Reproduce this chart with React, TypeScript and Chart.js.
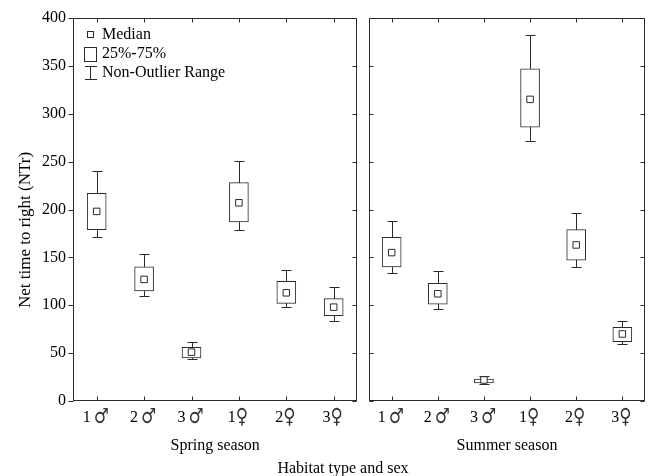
import React, { useEffect, useRef } from "react";
import { Chart, registerables } from "chart.js";

Chart.register(...registerables);

const categories = ["1♂", "2♂", "3♂", "1♀", "2♀", "3♀"];
const yTickValues = [0, 50, 100, 150, 200, 250, 300, 350, 400];

const springMin = [171, 110, 44, 179, 98, 84];
const springQ1 = [179, 115, 45, 187, 102, 89];
const springMedian = [198, 127, 51, 207, 113, 98];
const springQ3 = [217, 140, 56, 228, 125, 107];
const springMax = [240, 154, 62, 251, 137, 119];

const summerMin = [134, 96, 18, 272, 140, 60];
const summerQ1 = [140, 101, 19, 286, 147, 62];
const summerMedian = [155, 112, 22, 315, 163, 70];
const summerQ3 = [171, 123, 23, 347, 179, 77];
const summerMax = [188, 136, 26, 382, 196, 84];

const FONT = "'Liberation Serif', 'DejaVu Serif', serif";
const SYMBOL_FONT = "21px 'DejaVu Sans', sans-serif";
const LINE = "#2a2a2a";

function makeConfig(opts: {
  title: string;
  min: number[];
  q1: number[];
  med: number[];
  q3: number[];
  max: number[];
  showY: boolean;
  legend: boolean;
}) {
  const whiskerPlugin = {
    id: "whiskers",
    beforeDatasetsDraw(chart: any) {
      const { ctx } = chart;
      const xs = chart.scales.x;
      const ys = chart.scales.y;
      ctx.save();
      ctx.strokeStyle = LINE;
      ctx.lineWidth = 1;
      for (let i = 0; i < categories.length; i++) {
        const x = Math.round(xs.getPixelForValue(i)) + 0.5;
        const yTop = Math.round(ys.getPixelForValue(opts.max[i])) + 0.5;
        const yBot = Math.round(ys.getPixelForValue(opts.min[i])) + 0.5;
        ctx.beginPath();
        ctx.moveTo(x, yTop);
        ctx.lineTo(x, yBot);
        ctx.moveTo(x - 5, yTop);
        ctx.lineTo(x + 5, yTop);
        ctx.moveTo(x - 5, yBot);
        ctx.lineTo(x + 5, yBot);
        ctx.stroke();
      }
      ctx.restore();
    },
  };

  const framePlugin = {
    id: "frame",
    afterDraw(chart: any) {
      const { ctx, chartArea } = chart;
      const xs = chart.scales.x;
      const ys = chart.scales.y;
      const l = Math.round(chartArea.left) + 0.5;
      const r = Math.round(chartArea.right) - 0.5;
      const t = Math.round(chartArea.top) + 0.5;
      const b = Math.round(chartArea.bottom) - 0.5;
      ctx.save();
      ctx.strokeStyle = LINE;
      ctx.lineWidth = 1;
      ctx.strokeRect(l, t, r - l, b - t);
      ctx.beginPath();
      for (let i = 0; i < categories.length; i++) {
        const x = Math.round(xs.getPixelForValue(i)) + 0.5;
        ctx.moveTo(x, t);
        ctx.lineTo(x, t + 4);
        ctx.moveTo(x, b);
        ctx.lineTo(x, b - 4);
      }
      for (const v of yTickValues) {
        const y = Math.round(ys.getPixelForValue(v)) + 0.5;
        if (opts.showY) {
          ctx.moveTo(l, y);
          ctx.lineTo(l - 5, y);
        } else {
          ctx.moveTo(l, y);
          ctx.lineTo(l + 4, y);
        }
        ctx.moveTo(r, y);
        ctx.lineTo(r - 4, y);
      }
      ctx.stroke();

      // category labels: number in serif, sex symbol larger and narrower
      const SX = 0.8;
      for (let i = 0; i < categories.length; i++) {
        const label = categories[i];
        const num = label.slice(0, 1);
        const sym = label.slice(1);
        const cx = xs.getPixelForValue(i) - 1;
        ctx.font = "16px " + FONT;
        const wn = ctx.measureText(num).width;
        ctx.font = SYMBOL_FONT;
        const ws = ctx.measureText(sym).width * SX;
        const gap = sym === "♂" ? 3 : 0;
        const total = wn + gap + ws;
        const x0 = cx - total / 2;
        ctx.fillStyle = "#000";
        ctx.textAlign = "left";
        ctx.textBaseline = "alphabetic";
        ctx.font = "16px " + FONT;
        ctx.fillText(num, x0, 422);
        ctx.save();
        ctx.fillStyle = "#333";
        ctx.font = SYMBOL_FONT;
        ctx.textBaseline = "middle";
        ctx.translate(x0 + wn + gap, 417.5);
        ctx.scale(SX, 1);
        ctx.fillText(sym, 0, 0);
        ctx.restore();
      }

      if (opts.showY) {
        ctx.fillStyle = "#000";
        ctx.font = "17px " + FONT;
        ctx.textAlign = "center";
        ctx.textBaseline = "middle";
        ctx.translate(26, 230);
        ctx.rotate(-Math.PI / 2);
        ctx.fillText("Net time to right (NTr)", 0, 0);
        ctx.setTransform(1, 0, 0, 1, 0, 0);
      }

      if (opts.legend) {
        ctx.fillStyle = "#000";
        ctx.font = "16px " + FONT;
        ctx.textAlign = "left";
        ctx.textBaseline = "middle";
        ctx.strokeRect(87.5, 31.5, 6, 6);
        ctx.fillText("Median", 102, 35);
        ctx.strokeRect(84.5, 47.5, 12, 14);
        ctx.fillText("25%-75%", 102, 54);
        ctx.beginPath();
        ctx.moveTo(85, 66.5);
        ctx.lineTo(97, 66.5);
        ctx.moveTo(90.5, 66.5);
        ctx.lineTo(90.5, 79.5);
        ctx.moveTo(85, 79.5);
        ctx.lineTo(97, 79.5);
        ctx.stroke();
        ctx.fillText("Non-Outlier Range", 102, 73);
      }
      ctx.restore();
    },
  };

  return {
    type: "bar",
    data: {
      labels: categories,
      datasets: [
        {
          type: "line",
          data: opts.med,
          showLine: false,
          pointStyle: "rect",
          pointRadius: 4.6,
          pointBorderWidth: 1,
          pointBorderColor: LINE,
          pointBackgroundColor: "#fff",
          order: 1,
        },
        {
          type: "bar",
          data: opts.q1.map((v, i) => [v, opts.q3[i]]),
          backgroundColor: "#fff",
          borderColor: LINE,
          borderWidth: 1,
          borderSkipped: false,
          barThickness: 19,
          order: 2,
        },
      ],
    },
    options: {
      responsive: false,
      animation: false,
      events: [],
      layout: {
        padding: {
          top: 18,
          bottom: 17,
          left: opts.showY ? 0 : 4,
          right: opts.showY ? 4 : 3,
        },
      },
      plugins: {
        legend: { display: false },
        tooltip: { enabled: false },
      },
      scales: {
        x: {
          type: "category",
          offset: true,
          grid: { display: false, drawTicks: false },
          border: { display: false },
          ticks: { display: false },
          title: {
            display: true,
            text: opts.title,
            color: "#000",
            font: { family: FONT, size: 16 },
            padding: { top: 0, bottom: 4 },
          },
          afterFit(scale: any) {
            scale.height = 58;
          },
        },
        y: {
          display: opts.showY,
          min: 0,
          max: 400,
          grid: { display: false, drawTicks: false },
          border: { display: false },
          ticks: {
            stepSize: 50,
            padding: 7,
            color: "#000",
            font: { family: FONT, size: 16 },
          },
          afterFit(scale: any) {
            if (opts.showY) scale.width = 73;
          },
        },
      },
    },
    plugins: [whiskerPlugin, framePlugin],
  };
}

export default function App() {
  const leftRef = useRef<HTMLCanvasElement>(null);
  const rightRef = useRef<HTMLCanvasElement>(null);

  useEffect(() => {
    const left = new Chart(
      leftRef.current as HTMLCanvasElement,
      makeConfig({
        title: "Spring season",
        min: springMin,
        q1: springQ1,
        med: springMedian,
        q3: springQ3,
        max: springMax,
        showY: true,
        legend: true,
      }) as any
    );
    const right = new Chart(
      rightRef.current as HTMLCanvasElement,
      makeConfig({
        title: "Summer season",
        min: summerMin,
        q1: summerQ1,
        med: summerMedian,
        q3: summerQ3,
        max: summerMax,
        showY: false,
        legend: false,
      }) as any
    );
    return () => {
      left.destroy();
      right.destroy();
    };
  }, []);

  return (
    <div
      style={{
        position: "absolute",
        left: 0,
        top: 0,
        width: 651,
        height: 476,
        background: "#fff",
        overflow: "hidden",
      }}
    >
      <div style={{ position: "absolute", left: 0, top: 0, width: 363, height: 476 }}>
        <canvas ref={leftRef} width={363} height={476} style={{ display: "block" }} />
      </div>
      <div style={{ position: "absolute", left: 363, top: 0, width: 288, height: 476 }}>
        <canvas ref={rightRef} width={288} height={476} style={{ display: "block" }} />
      </div>
      <div
        style={{
          position: "absolute",
          left: 243,
          top: 459,
          width: 200,
          textAlign: "center",
          fontFamily: FONT,
          fontSize: 16,
          lineHeight: "18px",
          color: "#000",
          whiteSpace: "nowrap",
        }}
      >
        Habitat type and sex
      </div>
    </div>
  );
}
